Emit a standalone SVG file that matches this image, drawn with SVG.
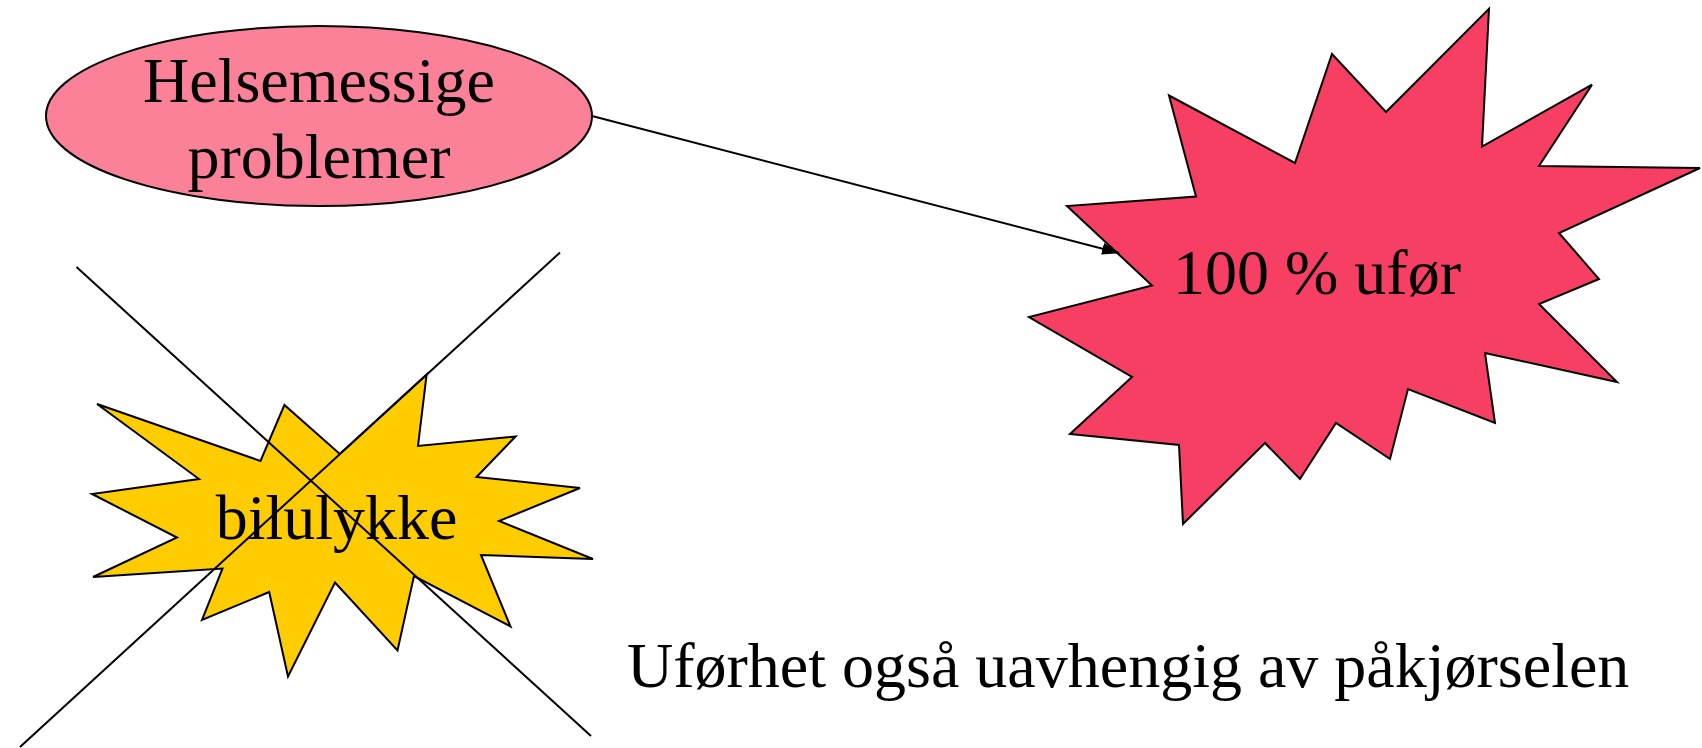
<svg xmlns="http://www.w3.org/2000/svg" width="1702" height="748" viewBox="0 0 1702 748">
<style>
.t{font-family:"Liberation Serif","Times New Roman",serif;font-size:64px;fill:#000}
.s{stroke:#000;stroke-width:2;stroke-linejoin:miter}
.c{stroke:#000;stroke-width:2;fill:none}
</style>
<defs>
<marker id="ah" viewBox="0 0 18 12" refX="17" refY="6" markerWidth="18" markerHeight="12" markerUnits="userSpaceOnUse" orient="auto">
<path d="M0,0 L18,6 L0,12 z" fill="#000"/>
</marker>
</defs>
<rect width="1702" height="748" fill="#fff"/>
<g id="helse">
<ellipse class="s" cx="319" cy="116" rx="273" ry="90" fill="#FA8197"/>
<text class="t" x="319" y="102" text-anchor="middle">Helsemessige</text>
<text class="t" x="319" y="178" text-anchor="middle">problemer</text>
</g>
<g id="ufor">
<polygon class="s" fill="#F73F63" points="1169,95.5 1295,163 1332,54 1386,112 1489,8.7 1482,146.5 1592,84.7 1539,166 1700,168 1559,233 1599,279 1539,304 1617,382 1485,353 1495,423 1408,389 1390,459 1336,423 1300,479 1265,443 1183,524 1179,445 1070,434 1132,377 1029,317 1152,285.5 1067,206 1196,196.5"/>
<text class="t" x="1317" y="294" text-anchor="middle">100 % ufør</text>
</g>
<g id="bilulykke">
<polygon class="s" fill="#FFCC00" points="97,404 260.5,461 284.4,405 339.8,454 426.6,374.5 418,446 515.6,436.4 476.5,477 580,488 499,521 593,559 481,555 510.5,626.5 414,576 397.5,650.5 335,582.5 288,676.5 269.2,592 202,620 222.5,568.5 93,577 177,537.5 92,494 199,479"/>
<text class="t" x="336.5" y="539" text-anchor="middle">bilulykke</text>
</g>
<g id="note">
<text class="t" x="627" y="687">Uførhet også uavhengig av påkjørselen</text>
</g>
<g id="connectors">
<line class="c" x1="592" y1="116" x2="1119" y2="253" marker-end="url(#ah)"/>
<line class="c" x1="76.5" y1="267" x2="591" y2="736"/>
<line class="c" x1="560" y1="252.5" x2="20" y2="747"/>
</g>
</svg>
